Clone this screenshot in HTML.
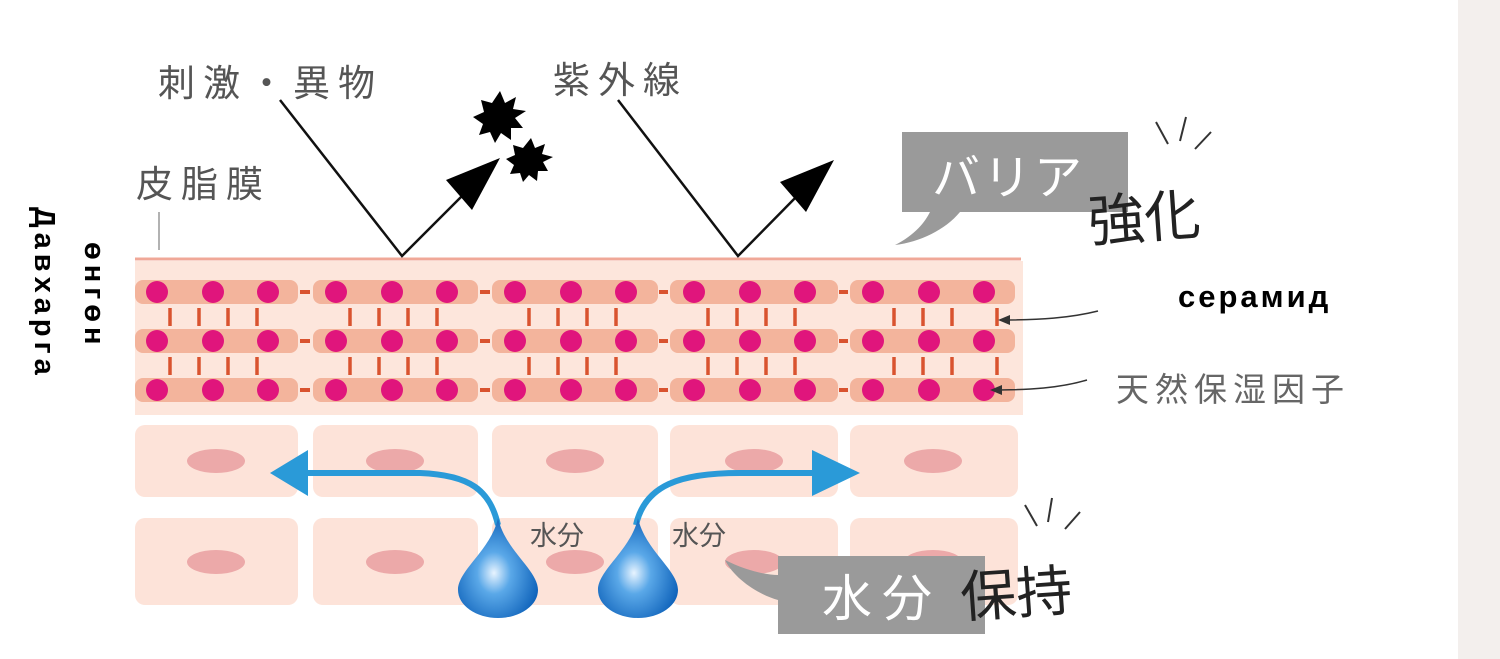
<!DOCTYPE html>
<html><head><meta charset="utf-8"><style>
html,body{margin:0;padding:0;background:#fff;}
svg{display:block;}
</style></head><body>
<svg width="1500" height="659" viewBox="0 0 1500 659" xmlns="http://www.w3.org/2000/svg" font-family="'Liberation Sans','Noto Sans CJK JP',sans-serif">
<defs>
<radialGradient id="drop" cx="0.45" cy="0.55" r="0.6">
<stop offset="0" stop-color="#e8f4ff"/><stop offset="0.35" stop-color="#5aa8e8"/><stop offset="1" stop-color="#0b5fb8"/>
</radialGradient>
</defs>
<rect x="1458" y="0" width="42" height="659" fill="#f3efed"/>
<rect x="135" y="261" width="888" height="154" fill="#fde6dc"/>
<line x1="135" y1="259" x2="1021" y2="259" stroke="#f0a898" stroke-width="3"/>
<g fill="#f3b49c">
<rect x="135" y="280" width="163" height="24" rx="8"/><rect x="313" y="280" width="165" height="24" rx="8"/><rect x="492" y="280" width="166" height="24" rx="8"/><rect x="670" y="280" width="168" height="24" rx="8"/><rect x="850" y="280" width="165" height="24" rx="8"/>
<rect x="135" y="329" width="163" height="24" rx="8"/><rect x="313" y="329" width="165" height="24" rx="8"/><rect x="492" y="329" width="166" height="24" rx="8"/><rect x="670" y="329" width="168" height="24" rx="8"/><rect x="850" y="329" width="165" height="24" rx="8"/>
<rect x="135" y="378" width="163" height="24" rx="8"/><rect x="313" y="378" width="165" height="24" rx="8"/><rect x="492" y="378" width="166" height="24" rx="8"/><rect x="670" y="378" width="168" height="24" rx="8"/><rect x="850" y="378" width="165" height="24" rx="8"/>
</g>
<g fill="#e0157c">
<circle cx="157" cy="292" r="11"/><circle cx="213" cy="292" r="11"/><circle cx="268" cy="292" r="11"/>
<circle cx="336" cy="292" r="11"/><circle cx="392" cy="292" r="11"/><circle cx="447" cy="292" r="11"/>
<circle cx="515" cy="292" r="11"/><circle cx="571" cy="292" r="11"/><circle cx="626" cy="292" r="11"/>
<circle cx="694" cy="292" r="11"/><circle cx="750" cy="292" r="11"/><circle cx="805" cy="292" r="11"/>
<circle cx="873" cy="292" r="11"/><circle cx="929" cy="292" r="11"/><circle cx="984" cy="292" r="11"/>
<circle cx="157" cy="341" r="11"/><circle cx="213" cy="341" r="11"/><circle cx="268" cy="341" r="11"/>
<circle cx="336" cy="341" r="11"/><circle cx="392" cy="341" r="11"/><circle cx="447" cy="341" r="11"/>
<circle cx="515" cy="341" r="11"/><circle cx="571" cy="341" r="11"/><circle cx="626" cy="341" r="11"/>
<circle cx="694" cy="341" r="11"/><circle cx="750" cy="341" r="11"/><circle cx="805" cy="341" r="11"/>
<circle cx="873" cy="341" r="11"/><circle cx="929" cy="341" r="11"/><circle cx="984" cy="341" r="11"/>
<circle cx="157" cy="390" r="11"/><circle cx="213" cy="390" r="11"/><circle cx="268" cy="390" r="11"/>
<circle cx="336" cy="390" r="11"/><circle cx="392" cy="390" r="11"/><circle cx="447" cy="390" r="11"/>
<circle cx="515" cy="390" r="11"/><circle cx="571" cy="390" r="11"/><circle cx="626" cy="390" r="11"/>
<circle cx="694" cy="390" r="11"/><circle cx="750" cy="390" r="11"/><circle cx="805" cy="390" r="11"/>
<circle cx="873" cy="390" r="11"/><circle cx="929" cy="390" r="11"/><circle cx="984" cy="390" r="11"/>
</g>
<g stroke="#d9532f" stroke-width="4">
<line x1="300" y1="292" x2="310" y2="292"/><line x1="480" y1="292" x2="490" y2="292"/><line x1="659" y1="292" x2="668" y2="292"/><line x1="839" y1="292" x2="848" y2="292"/>
<line x1="300" y1="341" x2="310" y2="341"/><line x1="480" y1="341" x2="490" y2="341"/><line x1="659" y1="341" x2="668" y2="341"/><line x1="839" y1="341" x2="848" y2="341"/>
<line x1="300" y1="390" x2="310" y2="390"/><line x1="480" y1="390" x2="490" y2="390"/><line x1="659" y1="390" x2="668" y2="390"/><line x1="839" y1="390" x2="848" y2="390"/>
</g>
<g stroke="#d9532f" stroke-width="3.5">
<path d="M170 308v18M199 308v18M228 308v18M257 308v18M350 308v18M379 308v18M408 308v18M437 308v18M529 308v18M558 308v18M587 308v18M616 308v18M708 308v18M737 308v18M766 308v18M795 308v18M894 308v18M923 308v18M952 308v18M997 308v18"/>
<path d="M170 357v18M199 357v18M228 357v18M257 357v18M350 357v18M379 357v18M408 357v18M437 357v18M529 357v18M558 357v18M587 357v18M616 357v18M708 357v18M737 357v18M766 357v18M795 357v18M894 357v18M923 357v18M952 357v18M997 357v18"/>
</g>
<g fill="#fde3d9">
<rect x="135" y="425" width="163" height="72" rx="10"/><rect x="313" y="425" width="165" height="72" rx="10"/><rect x="492" y="425" width="166" height="72" rx="10"/><rect x="670" y="425" width="168" height="72" rx="10"/><rect x="850" y="425" width="168" height="72" rx="10"/>
<rect x="135" y="518" width="163" height="87" rx="10"/><rect x="313" y="518" width="165" height="87" rx="10"/><rect x="492" y="518" width="166" height="87" rx="10"/><rect x="670" y="518" width="168" height="87" rx="10"/><rect x="850" y="518" width="168" height="87" rx="10"/>
</g>
<g fill="#eca9a9">
<ellipse cx="216" cy="461" rx="29" ry="12"/><ellipse cx="395" cy="461" rx="29" ry="12"/><ellipse cx="575" cy="461" rx="29" ry="12"/><ellipse cx="754" cy="461" rx="29" ry="12"/><ellipse cx="933" cy="461" rx="29" ry="12"/>
<ellipse cx="216" cy="562" rx="29" ry="12"/><ellipse cx="395" cy="562" rx="29" ry="12"/><ellipse cx="575" cy="562" rx="29" ry="12"/><ellipse cx="754" cy="562" rx="29" ry="12"/><ellipse cx="933" cy="562" rx="29" ry="12"/>
</g>
<path d="M498 525 C490 490 470 475 420 473 L300 473" fill="none" stroke="#2a9ad8" stroke-width="6"/>
<polygon points="270,473 308,450 308,496" fill="#2a9ad8"/>
<path d="M636 525 C645 485 680 473 740 473 L820 473" fill="none" stroke="#2a9ad8" stroke-width="6"/>
<polygon points="860,473 812,450 812,496" fill="#2a9ad8"/>
<path d="M498 518 C505 550 538 570 538 590 A40 28 0 0 1 458 590 C458 570 491 550 498 518Z" fill="url(#drop)"/>
<path d="M638 518 C645 550 678 570 678 590 A40 28 0 0 1 598 590 C598 570 631 550 638 518Z" fill="url(#drop)"/>
<g fill="#555" font-size="27">
<text x="530" y="545">水分</text><text x="672" y="545">水分</text>
</g>
<g stroke="#111" stroke-width="2.5" fill="none">
<polyline points="280,100 402,256 465,193"/>
<polyline points="618,100 738,256 800,193"/>
</g>
<polygon points="500,158 446,180 472,210" fill="#000"/>
<polygon points="834,160 780,182 806,212" fill="#000"/>
<polygon fill="#000" points="500,91 505,103 516,97 513,109 526,111 515,118 523,128 511,128 511,140 501,133 495,143 490,132 479,135 483,124 473,117 484,112 481,100 492,103" />
<polygon fill="#000" points="531,138 535,148 545,144 542,154 553,157 543,162 548,171 538,171 537,181 529,175 523,182 520,173 510,174 514,165 506,159 515,155 513,145 523,148"/>
<g fill="#555" font-size="37">
<text x="158" y="96" letter-spacing="8">刺激・異物</text>
<text x="553" y="93" letter-spacing="8">紫外線</text>
<text x="136" y="197" letter-spacing="8">皮脂膜</text>
</g>
<line x1="159" y1="212" x2="159" y2="250" stroke="#999" stroke-width="1.5"/>
<path d="M902 132 H1128 V212 H960 C945 230 920 242 895 245 C915 235 925 222 930 212 H902Z" fill="#9a9a9a"/>
<text x="932" y="194" fill="#fff" font-size="48" letter-spacing="3">バリア</text>
<text x="1088" y="238" fill="#222" font-size="56" transform="rotate(-4 1140 215)">強化</text>
<g stroke="#333" stroke-width="2"><line x1="1156" y1="122" x2="1168" y2="144"/><line x1="1186" y1="117" x2="1180" y2="141"/><line x1="1211" y1="132" x2="1195" y2="149"/></g>
<path d="M778 556 H985 V634 H778 V600 C760 595 735 580 725 560 C745 570 765 575 778 575Z" fill="#9a9a9a"/>
<text x="822" y="616" fill="#fff" font-size="50" letter-spacing="10">水分</text>
<text x="960" y="614" fill="#222" font-size="56" transform="rotate(-4 1010 590)">保持</text>
<g stroke="#333" stroke-width="2"><line x1="1025" y1="505" x2="1037" y2="526"/><line x1="1052" y1="498" x2="1048" y2="522"/><line x1="1080" y1="512" x2="1065" y2="529"/></g>
<text x="1178" y="307" fill="#000" font-size="31" font-weight="bold" letter-spacing="3">серамид</text>
<text x="1116" y="401" fill="#666" font-size="33" letter-spacing="6">天然保湿因子</text>
<g stroke="#333" stroke-width="1.5" fill="none">
<path d="M1098 311 C1070 318 1040 320 1000 320"/>
<path d="M1087 380 C1060 388 1030 390 992 390"/>
</g>
<polygon points="998,320 1010,315 1010,325" fill="#333"/>
<polygon points="990,390 1002,385 1002,395" fill="#333"/>
<text transform="translate(35,207) rotate(90)" font-size="29" font-weight="bold" fill="#000" letter-spacing="5">Давхарга</text>
<text transform="translate(85,242) rotate(90)" font-size="29" font-weight="bold" fill="#000" letter-spacing="5">өнгөн</text>
</svg>
</body></html>
